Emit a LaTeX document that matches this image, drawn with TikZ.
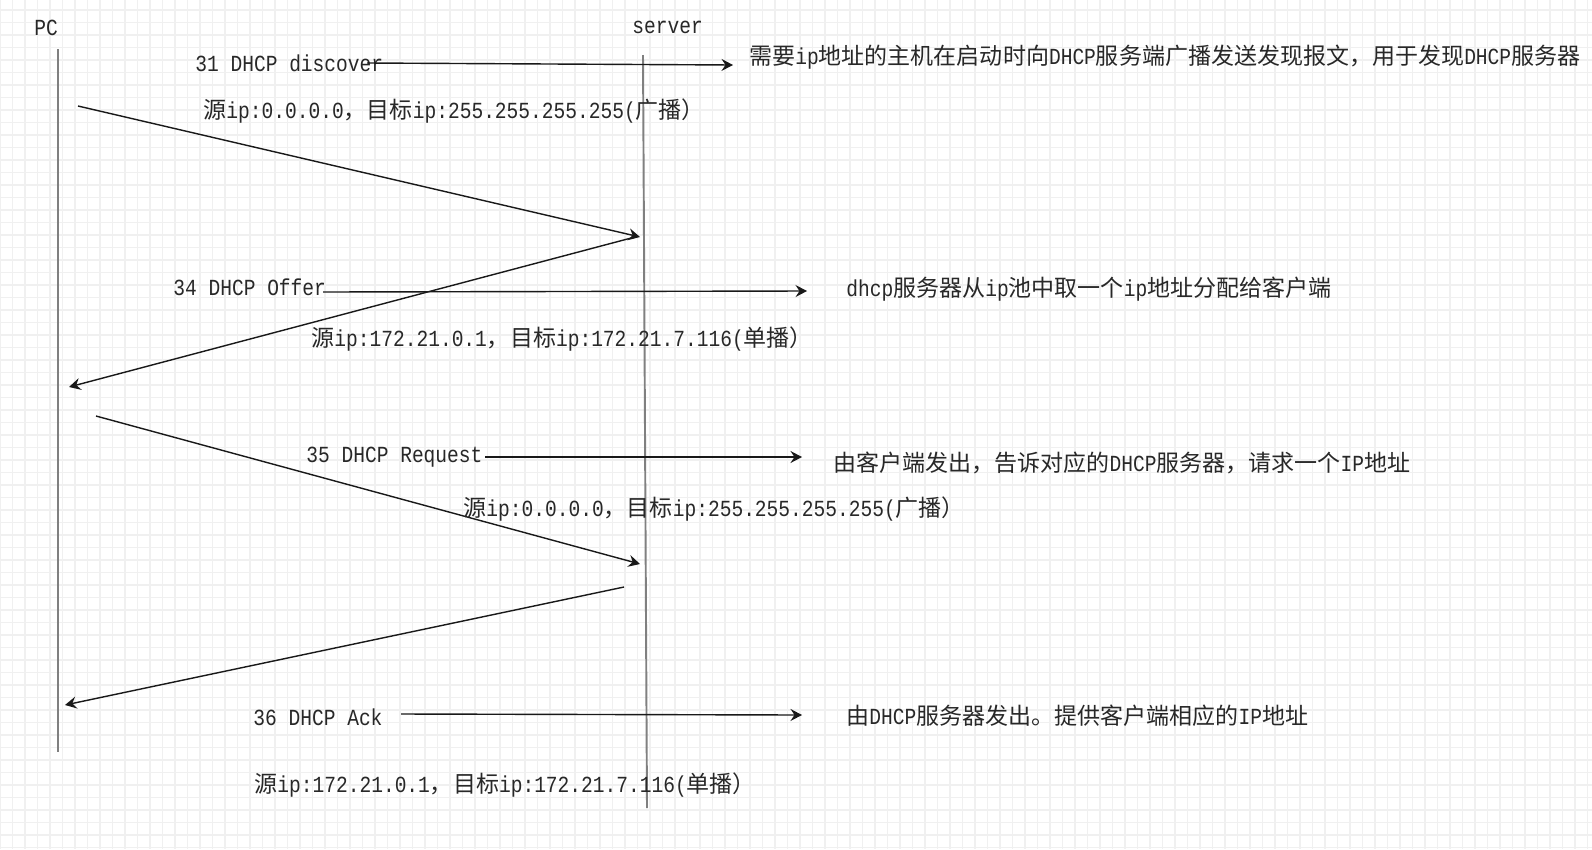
\documentclass[tikz,border=0pt]{standalone}
\usepackage{fontspec}
\setmainfont{Liberation Mono}[FakeStretch=0.85]
\newfontfamily\cjk{Noto Sans CJK SC}
\usetikzlibrary{arrows.meta}
\definecolor{gridgray}{RGB}{240,240,240}
\definecolor{lifegray}{RGB}{128,128,128}
\definecolor{txtgray}{RGB}{40,40,40}
\newcommand {\zh}[1] {{\cjk #1}}
\newcommand {\srcbc} {\zh{源}ip:0.0.0.0\zh{，目标}ip:255.255.255.255(\zh{广播）}}
\newcommand {\srcuc} {\zh{源}ip:172.21.0.1\zh{，目标}ip:172.21.7.116(\zh{单播）}}

\begin{document}
\begin{tikzpicture}[x=0.02cm,y=-0.02cm,
	txt/.style={anchor=west,inner sep=0pt,text=txtgray,font=\fontsize{13.1}{16}\selectfont},
	note/.style={txt},
	life/.style={line width=1.1pt,lifegray},
	msg/.style={line width=0.8pt,black!90,-{Stealth[length=2.3mm,width=2.4mm,inset=0.8mm]}}]
	\useasboundingbox (0,0) rectangle (1592,849);
	\fill[white] (0,0) rectangle (1592,849);
	\begin{scope}
		\clip (0,0) rectangle (1592,849);
		\draw[gridgray,line width=0.8pt] \foreach \i in {0,...,128} {(\i*12.5,0) -- (\i*12.5,849)};
		\draw[gridgray,line width=0.8pt] \foreach \i in {0,...,67} {(0,10+\i*12.5) -- (1592,10+\i*12.5)};
	\end{scope}
	% lifelines
	\node[txt] (pc) at (34,28) {PC};
	\node[txt] (srv) at (632,27) {server};
	\coordinate (pctop) at (58,49);
	\coordinate (pcbot) at (58,752);
	\coordinate (srvtop) at (643,55);
	\coordinate (srvbot) at (647,808);
	\draw[life] (pctop) -- (pcbot);
	\draw[life] (srvtop) -- (srvbot);
	% discover
	\coordinate (dis1) at (78,106);
	\coordinate (dis2) at (640,237);
	\draw[msg] (dis1) -- (dis2);
	\node[txt] (t31) at (195,63) {31 DHCP discover};
	\node[note] (d31) at (749,57) {\zh{需要}ip\zh{地址的主机在启动时向}DHCP\zh{服务端广播发送发现报文，用于发现}DHCP\zh{服务器}};
	\node[txt] (s31) at (203,111) {\srcbc};
	\coordinate (h31a) at (367,63);
	\coordinate (h31b) at (733,65);
	\draw[msg] (h31a) -- (h31b);
	% offer
	\coordinate (off1) at (635,237);
	\coordinate (off2) at (69,387);
	\draw[msg] (off1) -- (off2);
	\node[txt] (t34) at (173,287) {34 DHCP Offer};
	\node[note] (d34) at (846,289) {dhcp\zh{服务器从}ip\zh{池中取一个}ip\zh{地址分配给客户端}};
	\node[txt] (s34) at (311,339) {\srcuc};
	\coordinate (h34a) at (323,292);
	\coordinate (h34b) at (807,291);
	\draw[msg] (h34a) -- (h34b);
	% request
	\coordinate (req1) at (96,416);
	\coordinate (req2) at (640,564);
	\draw[msg] (req1) -- (req2);
	\node[txt] (t35) at (306,457) {35 DHCP Request};
	\node[note] (d35) at (833,463) {\zh{由客户端发出，告诉对应的}DHCP\zh{服务器，请求一个}IP\zh{地址}};
	\node[txt] (s35) at (463,509) {\srcbc};
	\coordinate (h35a) at (485,457);
	\coordinate (h35b) at (802,457);
	\draw[msg] (h35a) -- (h35b);
	% ack
	\coordinate (ack1) at (624,587);
	\coordinate (ack2) at (65,705);
	\draw[msg] (ack1) -- (ack2);
	\node[txt] (t36) at (253,717) {36 DHCP Ack};
	\node[note] (d36) at (846,716) {\zh{由}DHCP\zh{服务器发出。提供客户端相应的}IP\zh{地址}};
	\node[txt] (s36) at (254,785) {\srcuc};
	\coordinate (h36a) at (401,714);
	\coordinate (h36b) at (802,715);
	\draw[msg] (h36a) -- (h36b);
\end{tikzpicture}
\end{document}
